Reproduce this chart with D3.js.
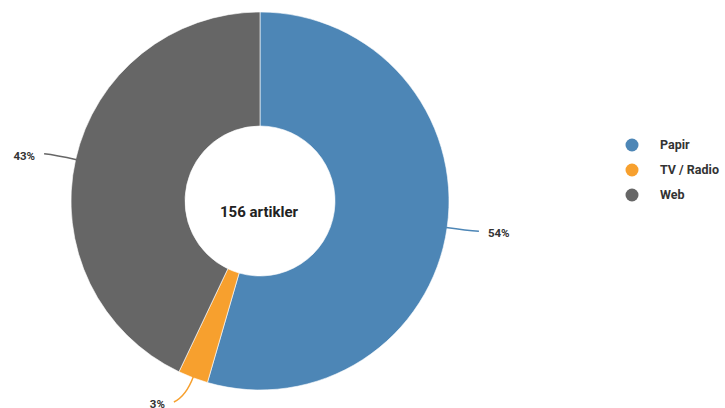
<!DOCTYPE html>
<html>
<head>
<meta charset="utf-8">
<script src="https://cdn.jsdelivr.net/npm/d3@7/dist/d3.min.js"></script>
<style>
  html, body { margin: 0; padding: 0; background: #fff; }
  svg { display: block; font-family: Roboto, "Noto Sans", sans-serif; }
</style>
</head>
<body>
<svg id="chart" width="725" height="408"></svg>
<script>
const categories = ["Papir", "TV / Radio", "Web"];
const values = [85, 4, 67];
const percentLabels = ["54%", "3%", "43%"];
const colors = ["#4d86b6", "#f7a02e", "#666666"];
const totalLabel = "156 artikler";

const svg = d3.select("#chart");
const cx = 260, cy = 201, outerR = 189, innerR = 75;

const pie = d3.pie().sort(null).value(d => d)(values);
const arc = d3.arc().innerRadius(innerR).outerRadius(outerR);

const g = svg.append("g").attr("transform", `translate(${cx},${cy})`);

g.selectAll("path.slice")
  .data(pie)
  .join("path")
  .attr("class", "slice")
  .attr("d", arc)
  .attr("fill", (d, i) => colors[i])
  .attr("stroke", "#fff")
  .attr("stroke-width", 0.6);

// connectors and labels
function pt(a, r) { return [Math.sin(a) * r, -Math.cos(a) * r]; }
pie.forEach((d, i) => {
  const a = (d.startAngle + d.endAngle) / 2;
  const A = pt(a, outerR - 1);
  const B = pt(a, outerR + 20);
  const sign = Math.sin(a) >= 0 ? 1 : -1;
  const dy = -Math.cos(a) * 6;
  const E = [B[0] + sign * 12, B[1] + dy];
  g.append("path")
    .attr("d", `M${A[0]},${A[1]} Q${B[0]},${B[1]} ${E[0]},${E[1]}`)
    .attr("fill", "none")
    .attr("stroke", colors[i])
    .attr("stroke-width", 1.5);
  g.append("text")
    .attr("x", E[0] + sign * 9)
    .attr("y", E[1] + 2)
    .attr("dy", "0.35em")
    .attr("text-anchor", sign > 0 ? "start" : "end")
    .attr("font-size", "11.5px")
    .attr("font-weight", "bold")
    .attr("fill", "#333")
    .text(percentLabels[i]);
});

g.append("text")
  .attr("x", -1)
  .attr("y", 16)
  .attr("text-anchor", "middle")
  .attr("font-size", "15px")
  .attr("font-weight", "bold")
  .attr("fill", "#222")
  .text(totalLabel);

// legend
const legend = svg.append("g").attr("transform", "translate(632,145)");
const item = legend.selectAll("g").data(categories).join("g")
  .attr("transform", (d, i) => `translate(0,${i * 25})`);
item.append("circle").attr("r", 6.5).attr("fill", (d, i) => colors[i]);
item.append("text")
  .attr("x", 28)
  .attr("dy", "0.35em")
  .attr("font-size", "12.5px")
  .attr("font-weight", "bold")
  .attr("fill", "#333")
  .text(d => d);
</script>
</body>
</html>
